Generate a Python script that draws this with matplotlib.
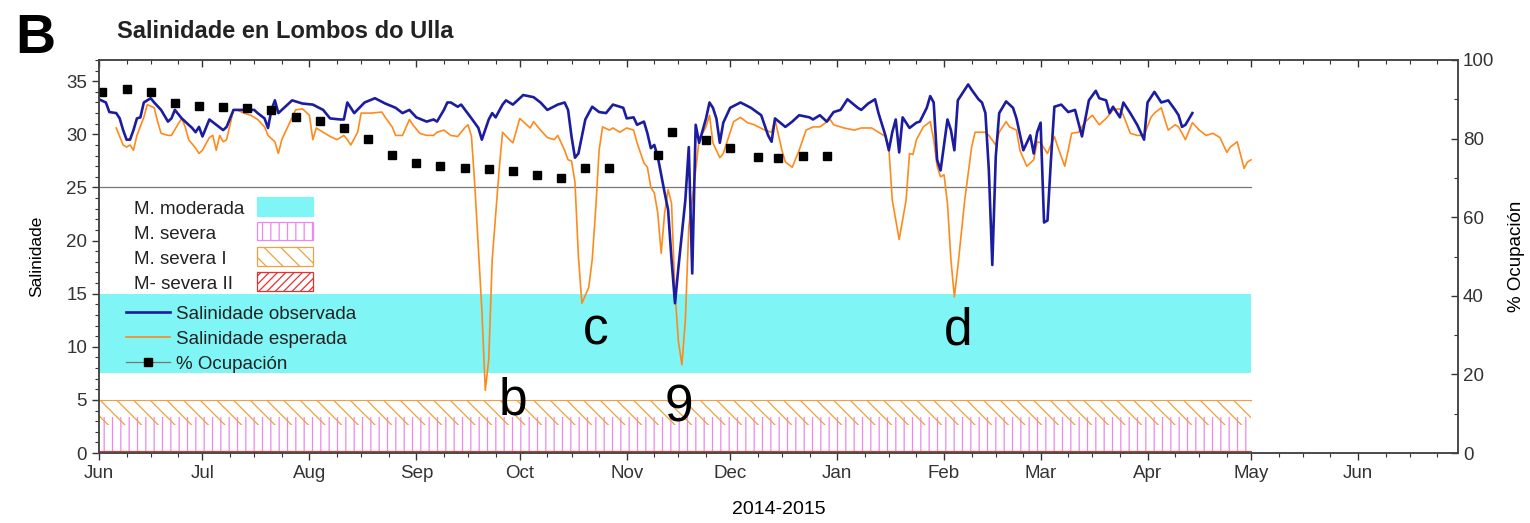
import numpy as np
import matplotlib
matplotlib.use("Agg")
import matplotlib.pyplot as plt
import matplotlib.dates as mdates
from matplotlib.patches import Rectangle
from matplotlib.lines import Line2D

plt.rcParams['font.family'] = ['Liberation Sans', 'DejaVu Sans']
plt.rcParams['hatch.linewidth'] = 0.9

start = np.datetime64('2014-06-01')

# salinidade observada (dias desde 1 xuño 2014)
obs_days = [0, 2, 3, 5, 6, 7, 8, 9, 10, 11, 12, 13, 15, 16, 18, 20, 21, 22, 24, 25,
            27, 28, 29, 30, 32, 34, 36, 37, 39, 42, 45, 46, 48, 49, 50, 51, 52, 54, 56, 59,
            62, 65, 67, 70, 71, 72, 74, 77, 80, 83, 86, 88, 90, 92, 95, 97, 98, 100, 101, 102,
            104, 105, 108, 110, 111, 113, 114, 115, 117, 118, 120, 123, 126, 128, 130, 133, 135, 136, 137, 138,
            139, 141, 143, 145, 147, 149, 152, 153, 155, 156, 158, 159, 160, 161, 162, 164, 165, 166, 167, 168,
            170, 171, 172, 173, 174, 176, 177, 178, 179, 180, 181, 183, 186, 189, 192, 194, 195, 196, 199, 201,
            203, 206, 207, 209, 211, 213, 215, 217, 220, 221, 223, 225, 226, 228, 229, 230, 231, 232, 233, 235,
            237, 238, 240, 241, 242, 243, 244, 246, 247, 248, 249, 252, 253, 255, 256, 257, 258, 259, 260, 261,
            263, 265, 266, 268, 270, 271, 272, 273, 274, 275, 276, 277, 279, 281, 283, 285, 287, 289, 290, 292,
            293, 294, 296, 297, 299, 301, 303, 304, 306, 308, 310, 312, 313, 314, 315, 317]
obs_sal = [33.3, 33.0, 32.1, 32.0, 31.5, 30.4, 29.5, 29.5, 30.4, 31.5, 31.6, 33.0, 33.4, 33.0, 32.3, 31.2, 31.5, 32.3, 31.5, 31.2,
           30.6, 30.2, 30.7, 29.8, 31.4, 30.9, 30.4, 30.7, 32.3, 32.3, 32.3, 32.0, 31.5, 30.6, 32.3, 33.2, 32.0, 32.6, 33.2, 32.9,
           32.8, 32.3, 31.5, 31.4, 31.4, 33.0, 32.0, 33.0, 33.4, 32.9, 32.5, 32.0, 32.3, 31.6, 31.2, 31.4, 31.2, 32.3, 33.0, 33.0,
           32.6, 32.8, 31.5, 30.6, 29.5, 31.4, 32.0, 31.6, 32.8, 33.2, 32.8, 33.7, 33.5, 33.0, 32.3, 32.8, 33.0, 32.3, 29.8, 27.8,
           28.2, 31.4, 32.6, 32.1, 32.0, 32.8, 32.5, 31.5, 31.6, 30.9, 31.2, 30.1, 28.7, 29.0, 27.9, 24.5, 22.9, 18.2, 14.1, 17.5,
           23.8, 28.8, 16.9, 30.9, 29.2, 31.5, 33.0, 32.5, 31.5, 29.2, 31.1, 32.5, 33.0, 32.5, 31.8, 29.9, 29.3, 31.5, 30.7, 31.2,
           31.8, 31.6, 31.4, 31.8, 31.2, 32.1, 32.3, 33.3, 32.5, 32.3, 32.9, 33.3, 32.0, 29.9, 28.5, 30.2, 31.4, 28.3, 31.6, 30.6,
           31.1, 31.2, 32.5, 33.6, 33.0, 27.6, 26.6, 31.4, 30.4, 28.5, 33.2, 34.7, 34.2, 33.3, 33.0, 32.0, 26.6, 17.7, 27.9, 32.0,
           33.1, 32.5, 31.5, 28.5, 29.9, 28.2, 30.2, 31.1, 21.7, 21.9, 27.6, 32.6, 32.8, 32.1, 32.3, 29.8, 33.2, 34.1, 33.4, 33.2,
           32.0, 32.6, 31.6, 33.0, 32.0, 30.9, 29.5, 33.0, 34.0, 33.0, 33.2, 32.3, 31.8, 30.7, 30.9, 32.0]

# salinidade esperada
exp_days = [5, 7, 8, 9, 10, 11, 13, 14, 16, 17, 18, 20, 21, 23, 24, 25, 26, 28, 29, 30,
            32, 33, 34, 35, 36, 37, 39, 40, 42, 44, 46, 48, 49, 51, 52, 53, 55, 57, 59, 61,
            62, 63, 65, 67, 69, 71, 72, 73, 75, 76, 79, 82, 83, 85, 86, 88, 90, 91, 93, 95,
            97, 98, 100, 102, 104, 106, 107, 108, 109, 111, 112, 113, 114, 116, 117, 119, 120, 122, 124, 125,
            126, 128, 130, 132, 133, 135, 136, 137, 138, 139, 140, 142, 143, 144, 145, 146, 148, 149, 151, 153,
            155, 156, 158, 159, 160, 161, 162, 163, 164, 165, 166, 167, 168, 169, 170, 171, 173, 174, 176, 177,
            178, 180, 181, 183, 184, 186, 188, 190, 193, 195, 196, 198, 199, 201, 203, 205, 207, 209, 212, 213,
            216, 219, 221, 224, 226, 228, 229, 230, 232, 234, 235, 236, 237, 239, 241, 242, 243, 244, 245, 246,
            247, 248, 249, 251, 253, 254, 257, 258, 260, 261, 263, 264, 266, 267, 269, 271, 272, 273, 275, 277,
            278, 280, 281, 282, 284, 286, 288, 290, 292, 294, 296, 297, 299, 301, 303, 305, 306, 308, 309, 310,
            312, 313, 315, 317, 319, 321, 323, 325, 327, 328, 330, 332, 333, 334]
exp_sal = [30.6, 29.0, 28.8, 29.0, 28.5, 29.9, 31.6, 32.8, 32.5, 31.2, 30.1, 29.9, 29.9, 31.0, 31.5, 30.7, 29.5, 28.7, 28.2, 28.5,
           29.7, 29.9, 28.5, 29.9, 29.3, 29.5, 32.3, 32.3, 32.0, 31.8, 31.4, 30.7, 29.9, 29.3, 28.2, 29.5, 30.9, 32.3, 32.4, 31.8,
           29.5, 30.6, 30.2, 29.8, 29.5, 29.9, 29.5, 29.0, 30.2, 32.0, 32.0, 32.1, 31.6, 30.7, 29.9, 29.9, 31.4, 30.9, 30.1, 29.9,
           29.9, 30.2, 30.4, 29.9, 29.8, 30.6, 30.9, 29.8, 25.0, 13.5, 5.9, 8.8, 18.2, 26.6, 30.2, 29.5, 29.2, 31.5, 30.9, 30.6,
           31.2, 30.4, 29.7, 29.5, 29.9, 28.5, 27.6, 27.5, 25.5, 18.5, 14.1, 15.6, 18.2, 22.9, 28.5, 30.7, 30.4, 30.6, 30.2, 30.6,
           30.4, 29.2, 27.3, 26.9, 25.0, 24.5, 22.6, 18.8, 22.6, 24.8, 23.5, 15.1, 10.5, 8.3, 12.5, 21.3, 26.6, 29.5, 30.7, 31.8,
           29.2, 27.8, 28.2, 30.2, 31.2, 31.6, 31.1, 30.9, 30.4, 30.2, 31.4, 28.5, 27.4, 26.9, 28.5, 30.4, 30.7, 30.7, 31.4, 30.9,
           30.6, 30.4, 30.6, 30.6, 30.2, 29.8, 28.8, 23.8, 20.1, 23.8, 28.2, 28.1, 29.5, 30.7, 31.2, 29.5, 27.0, 26.0, 26.2, 23.5,
           18.2, 14.7, 17.5, 23.8, 28.8, 30.2, 30.2, 29.9, 29.0, 30.2, 31.2, 30.7, 30.4, 28.5, 27.0, 27.6, 29.3, 29.2, 28.2, 29.8,
           28.8, 27.0, 28.5, 30.1, 30.2, 31.2, 31.8, 30.9, 31.5, 32.3, 32.4, 31.8, 30.1, 29.9, 29.9, 31.6, 32.0, 32.5, 31.4, 30.4,
           30.9, 30.7, 29.5, 31.1, 30.4, 29.9, 30.1, 29.7, 28.3, 28.8, 29.3, 26.8, 27.4, 27.6]

# % ocupación (semanal)
occ_days = [1, 8, 15, 22, 29, 36, 43, 50, 57, 64, 71, 78, 85, 92, 99, 106, 113, 120, 127, 134,
            141, 148, 162, 166, 176, 183, 191, 197, 204, 211]
occ_pct = [91.9, 92.6, 91.9, 89.0, 88.3, 88.0, 87.8, 87.3, 85.5, 84.5, 82.7, 79.9, 75.8, 73.8, 73.0, 72.5, 72.3, 71.8, 70.7, 70.0,
           72.5, 72.5, 75.8, 81.7, 79.6, 77.6, 75.3, 75.1, 75.6, 75.6]

# límites das categorías de mortalidade
band_end_day = 334
moderada = (7.5, 15.0)
severa = (0.0, 3.4)
severa_1 = (2.6, 5.0)
severa_2 = (0.0, 0.15)
ref_line = 25

labels = ['b', 'c', '9', 'd']
label_days = [120, 144, 168, 249]
label_y = [3.6, 10.2, 3.0, 10.2]


def to_dates(days):
    return start + np.array(days).astype('timedelta64[D]')


blue = '#1c1ca0'
orange = '#ff8a1c'
cyan = '#80f5f5'
pink = '#ee88ee'
hatch_orange = '#f0a040'
red = '#e83030'

fig = plt.figure(figsize=(15.3, 5.23), dpi=100)
ax = fig.add_axes([0.0647, 0.1338, 0.8882, 0.7515])
ax2 = ax.twinx()

band_x = to_dates([0, band_end_day])
ax.fill_between(band_x, *moderada, color=cyan, lw=0, zorder=0.5)
ax.fill_between(band_x, *severa, facecolor='none', edgecolor=pink, hatch='||', lw=0, zorder=0.6)
ax.fill_between(band_x, *severa_1, facecolor='none', edgecolor=hatch_orange, hatch='\\\\', lw=0, zorder=0.6)
ax.plot(band_x, [severa_1[1]] * 2, color=hatch_orange, lw=0.8, zorder=0.6)
ax.fill_between(band_x, *severa_2, facecolor='none', edgecolor=red, hatch='////', lw=0.8, zorder=0.7)
ax.plot(band_x, [ref_line] * 2, color='#777777', lw=0.9, zorder=0.8)

ax.plot(to_dates(obs_days), obs_sal, color=blue, lw=1.9, zorder=3)
ax.plot(to_dates(exp_days), exp_sal, color=orange, lw=1.2, zorder=2)
ax2.plot(to_dates(occ_days), occ_pct, ls='none', marker='s', ms=6, color='black')

for lab, d, y in zip(labels, label_days, label_y):
    ax.text(to_dates([d])[0], y, lab, fontsize=37, ha='center', va='baseline', zorder=4)

ax.set_xlim(np.datetime64('2014-06-01'), np.datetime64('2015-06-30'))
ax.set_ylim(0, 37)
ax2.set_ylim(0, 100)

ax.xaxis.set_major_locator(mdates.MonthLocator())
ax.xaxis.set_minor_locator(mdates.DayLocator(bymonthday=[9, 16, 24]))
ax.xaxis.set_major_formatter(mdates.DateFormatter('%b'))
ax.set_yticks(np.arange(0, 36, 5))
ax.yaxis.set_minor_locator(matplotlib.ticker.MultipleLocator(1))
ax2.set_yticks(np.arange(0, 101, 20))
ax2.yaxis.set_minor_locator(matplotlib.ticker.MultipleLocator(10))

ax.tick_params(axis='both', which='major', direction='out', length=5, width=1, labelsize=13.5, colors='#333333')
ax.tick_params(axis='both', which='minor', direction='out', length=3, width=0.8, colors='#333333')
ax.tick_params(axis='x', top=False)
ax2.tick_params(axis='y', which='major', direction='in', length=5, width=1, labelsize=13.5, colors='#333333')
ax2.tick_params(axis='y', which='minor', direction='in', length=3, width=0.8, colors='#333333')
ax2.xaxis.set_visible(True)
ax2.tick_params(axis='x', which='both', top=True, bottom=False, labeltop=False, labelbottom=False,
                direction='in', colors='#333333')
ax2.tick_params(axis='x', which='major', length=5, width=1)
ax2.tick_params(axis='x', which='minor', length=3, width=0.8)

for a in (ax, ax2):
    for s in a.spines.values():
        s.set_color('#444444')
        s.set_linewidth(1.1)

ax.set_ylabel('Salinidade', fontsize=12.5, labelpad=16)
ax2.set_ylabel('% Ocupación', fontsize=13.5, labelpad=10)
ax.set_xlabel('2014-2015', fontsize=14, labelpad=14)

# lenda das categorías (texto á esquerda, mostra á dereita)
cat_names = ['M. moderada', 'M. severa', 'M. severa I', 'M- severa II']
cat_styles = [dict(facecolor=cyan, edgecolor=cyan, hatch=None),
              dict(facecolor='white', edgecolor=pink, hatch='||'),
              dict(facecolor='white', edgecolor=hatch_orange, hatch='\\\\'),
              dict(facecolor='white', edgecolor=red, hatch='////')]
row_y = [0.628, 0.565, 0.500, 0.437]
for name, st, y in zip(cat_names, cat_styles, row_y):
    ax.text(0.0258, y - 0.008, name, transform=ax.transAxes, fontsize=13.5, va='center', ha='left',
            color='#222222', zorder=5)
    ax.add_patch(Rectangle((0.1163, y - 0.024), 0.0412, 0.048, transform=ax.transAxes,
                           lw=0.9, zorder=5, **st))

handles = [Line2D([], [], color=blue, lw=1.9),
           Line2D([], [], color=orange, lw=1.2),
           Line2D([], [], color='#777777', lw=0.9, marker='s', ms=6, mfc='black', mec='black')]
leg = ax.legend(handles, ['Salinidade observada', 'Salinidade esperada', '% Ocupación'],
                loc='upper left', bbox_to_anchor=(0.0199, 0.375), frameon=False, fontsize=13.5,
                handlelength=2.35, handletextpad=0.32, labelspacing=0.42, borderpad=0, borderaxespad=0)
for t in leg.get_texts():
    t.set_color('#222222')

fig.text(15 / 1530, 1 - 53 / 523, 'B', fontsize=40, fontweight='bold', va='baseline')
fig.text(117 / 1530, 1 - 38 / 523, 'Salinidade en Lombos do Ulla', fontsize=17, fontweight='bold', va='baseline',
         color='#222222')

fig.savefig('out.png', dpi=100)
